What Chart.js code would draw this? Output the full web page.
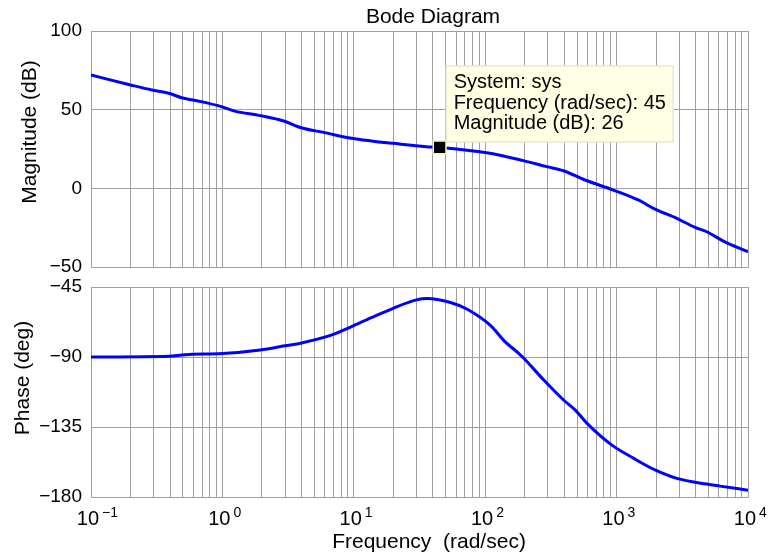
<!DOCTYPE html>
<html>
<head>
<meta charset="utf-8">
<script src="https://cdn.jsdelivr.net/npm/chart.js@4.4.0/dist/chart.umd.min.js"></script>
<style>
  html, body { margin: 0; padding: 0; background: #fff; }
  #wrap { position: relative; width: 769px; height: 557px; overflow: hidden; }
  canvas { position: absolute; left: 0; }
  #mag { top: 0; }
  #phase { top: 262px; }
</style>
</head>
<body>
<div id="wrap">
  <canvas id="mag" width="769" height="300"></canvas>
  <canvas id="phase" width="769" height="295"></canvas>
</div>
<script>
// frequency decades on the x axis (10^-1 .. 10^4 rad/sec)
var decades = [-1, 0, 1, 2, 3, 4];

// magnitude curve
var magFreq = [0.1, 0.2, 0.29, 0.39, 0.49, 0.69, 0.98, 1.24, 1.94, 2.93, 3.98, 6.0, 9.6, 13.6, 19.9, 35.6, 45,
  103, 195, 294, 393, 575, 944, 1460, 1960, 2870, 3950, 4850, 6490, 10000];
var magDb = [72.0, 65.7, 62.5, 60.4, 57.6, 55.1, 51.9, 49.1, 46.2, 42.8, 38.5, 35.4, 31.8, 30.1, 28.6, 26.5, 26.0,
  22.6, 17.6, 13.8, 11.2, 5.3, -1.1, -7.4, -13.2, -19.1, -24.8, -27.6, -33.5, -40.3];

// phase curve
var phaseFreq = [0.1, 0.39, 0.52, 1.0, 1.94, 3.0, 4.0, 7.0, 9.6, 13.6, 19.9, 30, 35.8, 54.4, 73, 111, 140, 178,
  195, 277, 393, 483, 593, 916, 1340, 1960, 2870, 4850, 6130, 10000];
var phaseDeg = [-90, -89.5, -88.5, -87.8, -85.5, -82.8, -81, -75.5, -70.5, -64.7, -58.7, -53.3, -52.4, -55, -59.3,
  -70.1, -79.8, -87.3, -90.5, -104.5, -117.5, -124, -132.5, -146.5, -155, -162.6, -168, -171.7, -173, -175.6];

// y tick labels
var magTicks = [-50, 0, 50, 100];
var phaseTicks = [-180, -135, -90, -45];

// data tip
var tipFreq = 45;
var tipMag = 26;
var tipLines = ['System: sys', 'Frequency (rad/sec): ' + tipFreq, 'Magnitude (dB): ' + tipMag];

var FONT = "'Liberation Sans', Arial, Helvetica, sans-serif";
var GRID = '#a0a0a0';
var BLUE = '#0000ff';

// vertical grid at 1..9 x each decade
var gridFreqs = [];
for (var d = 0; d < decades.length - 1; d++) {
  for (var k = 1; k < 10; k++) gridFreqs.push(k * Math.pow(10, decades[d]));
}
gridFreqs.push(Math.pow(10, decades[decades.length - 1]));

function pairs(xs, ys) {
  return xs.map(function(x, i) { return {x: x, y: ys[i]}; });
}
function minus(v) {
  return v < 0 ? '\u2212' + Math.abs(v) : '' + v;
}

function xScale(height) {
  return {
    type: 'logarithmic',
    min: 0.1,
    max: 10000,
    afterBuildTicks: function(scale) {
      scale.ticks = gridFreqs.map(function(v) { return {value: v}; });
    },
    afterFit: function(scale) { scale.height = height; },
    ticks: { display: false },
    grid: { color: GRID, lineWidth: 1, drawTicks: false },
    border: { color: GRID }
  };
}

function yScale(lo, hi, ticks) {
  return {
    min: lo,
    max: hi,
    afterBuildTicks: function(scale) {
      scale.ticks = ticks.map(function(v) { return {value: v}; });
    },
    afterFit: function(scale) { scale.width = 91; scale.paddingTop = 0; scale.paddingBottom = 0; },
    ticks: {
      padding: 9,
      color: '#000',
      font: { family: FONT, size: 19 },
      callback: function(v) { return minus(v); }
    },
    grid: { color: GRID, lineWidth: 1, drawTicks: false },
    border: { color: GRID }
  };
}

function yTitle(ctx, text, x, cy) {
  ctx.save();
  ctx.translate(x, cy);
  ctx.rotate(-Math.PI / 2);
  ctx.fillStyle = '#000';
  ctx.font = '21px ' + FONT;
  ctx.textAlign = 'center';
  ctx.textBaseline = 'alphabetic';
  ctx.fillText(text, 0, 0);
  ctx.restore();
}

var magText = {
  id: 'magText',
  afterDraw: function(chart) {
    var ctx = chart.ctx;
    ctx.save();
    ctx.fillStyle = '#000';
    ctx.font = '21px ' + FONT;
    ctx.textAlign = 'center';
    ctx.textBaseline = 'alphabetic';
    ctx.fillText('Bode Diagram', 433, 23);
    ctx.restore();
    yTitle(ctx, 'Magnitude (dB)', 36, 132);

    // data tip box next to the marker
    var pt = chart.getDatasetMeta(0).data[0];
    var bx = pt.x + 6, by = pt.y - 82, bw = 228, bh = 77;
    ctx.save();
    ctx.fillStyle = '#ffffe3';
    ctx.strokeStyle = '#dcdccc';
    ctx.lineWidth = 1;
    ctx.fillRect(bx, by, bw, bh);
    ctx.strokeRect(bx + 0.5, by + 0.5, bw - 1, bh - 1);
    ctx.fillStyle = '#000';
    ctx.font = '20px ' + FONT;
    ctx.textAlign = 'left';
    ctx.textBaseline = 'alphabetic';
    for (var i = 0; i < tipLines.length; i++) {
      ctx.fillText(tipLines[i], bx + 8, by + 23 + i * 20.5);
    }
    ctx.restore();
  }
};

var phaseText = {
  id: 'phaseText',
  afterDraw: function(chart) {
    var ctx = chart.ctx;
    var xs = chart.scales.x;
    yTitle(ctx, 'Phase (deg)', 29, 116);
    ctx.save();
    ctx.fillStyle = '#000';
    ctx.textBaseline = 'alphabetic';
    decades.forEach(function(d) {
      var px = xs.getPixelForValue(Math.pow(10, d));
      ctx.font = '20px ' + FONT;
      ctx.textAlign = 'right';
      ctx.fillText('10', px + 8, 263);
      ctx.font = '14px ' + FONT;
      ctx.textAlign = 'left';
      ctx.fillText(minus(d), px + 11, 255);
    });
    ctx.font = '21px ' + FONT;
    ctx.textAlign = 'center';
    ctx.fillText('Frequency  (rad/sec)', 429, 286);
    ctx.restore();
  }
};

Chart.defaults.font.family = FONT;

new Chart(document.getElementById('mag'), {
  type: 'line',
  data: {
    datasets: [{
      data: [{x: tipFreq, y: tipMag}],
      showLine: false,
      pointStyle: 'rect',
      pointRadius: 9,
      backgroundColor: '#000',
      borderColor: '#f4f4c4',
      borderWidth: 1.5,
      order: 0
    }, {
      data: pairs(magFreq, magDb),
      borderColor: BLUE,
      borderWidth: 3,
      pointRadius: 0,
      cubicInterpolationMode: 'monotone',
      fill: false,
      order: 1
    }]
  },
  options: {
    responsive: false,
    animation: false,
    devicePixelRatio: 1,
    layout: { padding: { top: 31, right: 21, bottom: 33, left: 0 } },
    plugins: { legend: { display: false }, tooltip: { enabled: false }, title: { display: false } },
    scales: {
      x: xScale(0),
      y: yScale(-50, 100, magTicks)
    }
  },
  plugins: [magText]
});

new Chart(document.getElementById('phase'), {
  type: 'line',
  data: {
    datasets: [{
      data: pairs(phaseFreq, phaseDeg),
      borderColor: BLUE,
      borderWidth: 3,
      pointRadius: 0,
      cubicInterpolationMode: 'monotone',
      fill: false
    }]
  },
  options: {
    responsive: false,
    animation: false,
    devicePixelRatio: 1,
    layout: { padding: { top: 25, right: 21, bottom: 0, left: 0 } },
    plugins: { legend: { display: false }, tooltip: { enabled: false } },
    scales: {
      x: xScale(60),
      y: yScale(-180, -45, phaseTicks)
    }
  },
  plugins: [phaseText]
});
</script>
</body>
</html>
